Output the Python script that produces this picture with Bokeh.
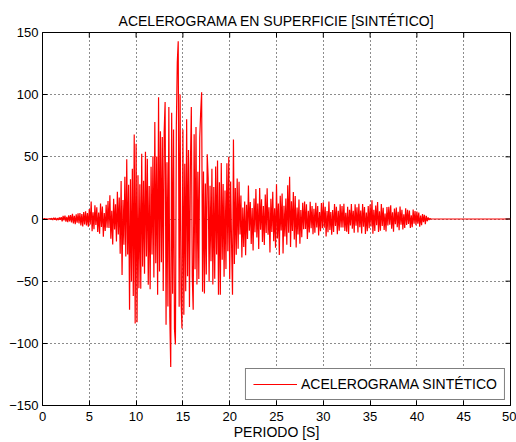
import numpy as np
from bokeh.plotting import figure
from bokeh.models import Range1d, FixedTicker, Legend, LegendItem
from bokeh.embed import file_html
from bokeh.resources import INLINE

# Sampling step of the synthetic record (s) and end of the plotted window
dt = 0.1
t_end = 50.0

# Acceleration samples, one row per second (10 samples each)
s00 = [0.2, -0.3, 0.4, -0.2, 0.3, -0.4, 0.2, -0.3, 0.5, -0.2]
s01 = [0.6, -0.8, 1.0, -0.5, 0.9, -1.1, 0.7, -0.9, 1.2, -0.6]
s02 = [1.5, -2.0, 2.5, -1.2, 2.8, -2.2, 1.8, -2.6, 3.0, -1.9]
s03 = [3.2, -2.8, 4.1, -3.5, 2.6, -4.2, 3.8, -3.0, 4.5, -3.6]
s04 = [4.8, -5.2, 3.9, -6.0, 5.5, -4.4, 6.2, -5.1, 4.7, -6.3]
s05 = [8.0, -4.5, 14.0, -9.8, 5.5, -8.2, 11.0, -4.9, 9.5, -10.5]
s06 = [5.2, -11.8, 12.5, -6.4, 10.1, -14.2, 4.8, -9.6, 11.4, -7.0]
s07 = [14.5, -7.2, 19.0, -15.8, 6.7, -20.5, 16.2, -8.4, 11.8, -18.1]
s08 = [22.0, -12.5, 17.3, -28.0, 30.5, -45.0, 15.2, -20.8, 34.0, -30.2]
s09 = [48.0, -28.5, 27.5, -73.0, 32.0, -50.2, 40.5, -62.0, 68.0, -84.0]
s10 = [60.5, -83.0, 35.2, -55.6, 28.0, -56.0, 52.5, -38.3, 30.8, -44.0]
s11 = [54.0, -30.2, 48.5, -52.8, 26.5, -56.4, 42.0, -28.6, 50.5, -47.0]
s12 = [78.0, -35.5, 50.2, -61.0, 98.0, -42.3, 70.5, -34.8, 66.0, -58.0]
s13 = [70.5, 94.0, -85.0, 45.6, -70.4, 90.0, -78.5, -119.0, 85.4, -60.2]
s14 = [72.0, -88.4, -101.0, 75.3, 126.0, 143.0, -70.6, 100.2, -64.5, -88.0]
s15 = [72.0, -77.0, 44.5, -58.2, 80.3, -46.0, 55.4, -70.8, 42.0, 90.0]
s16 = [-46.5, -73.0, 68.2, -40.4, 74.0, -52.6, 38.0, -48.2, 65.5, 86.0]
s17 = [102.0, -58.5, 38.2, -60.0, 28.5, -44.6, 52.0, 33.0, -50.5, 26.8]
s18 = [-34.0, 40.5, -52.6, 25.8, -48.0, 42.2, -28.5, 47.0, -61.0, 29.6]
s19 = [-61.0, 45.0, -32.8, 28.2, -46.5, 23.0, -40.2, 44.8, -26.0, 50.0]
s20 = [-48.5, 30.2, -20.6, -61.0, 64.0, -36.2, 25.0, -28.8, 32.5, -24.0]
s21 = [30.0, -12.5, 18.8, -31.0, 9.2, -22.5, 14.0, -29.2, 11.4, -16.0]
s22 = [27.0, -9.5, 13.6, -20.0, 8.8, -25.4, 16.5, -10.6, 24.2, -14.8]
s23 = [12.5, -24.2, 25.0, -8.6, 15.8, -18.5, 10.4, -21.0, 19.6, -11.2]
s24 = [24.8, -12.6, 9.5, -27.0, 16.2, -10.4, 22.0, -17.8, 8.6, -23.2]
s25 = [28.0, -15.6, 12.4, -29.0, 18.6, -9.2, 20.5, -27.8, 10.6, -14.0]
s26 = [16.5, -20.8, 27.2, -11.0, 34.0, -22.5, 14.2, -9.6, 21.8, -16.4]
s27 = [18.5, -23.0, 9.2, -12.4, 15.6, -19.8, 7.2, -14.6, 13.0, -8.2]
s28 = [14.0, -8.0, 11.8, -16.0, 6.6, -10.8, 13.8, -7.4, 10.5, -12.2]
s29 = [8.2, -11.0, 13.0, -6.8, 10.4, -13.2, 5.6, -9.8, 12.8, -7.4]
s30 = [13.5, -7.0, 9.8, -14.0, 6.4, -10.6, 14.0, -8.8, 5.6, -12.6]
s31 = [7.2, -10.4, 12.0, -5.6, 9.8, -12.2, 6.6, -9.4, 11.8, -6.8]
s32 = [10.5, -6.8, 12.2, -9.6, 5.0, -10.2, 9.8, -12.0, 7.4, -5.2]
s33 = [12.0, -7.8, 6.6, -11.0, 11.8, -5.4, 9.4, -10.8, 12.2, -6.6]
s34 = [6.8, -11.6, 12.0, -6.2, 9.6, -12.0, 5.2, -9.8, 10.4, -7.4]
s35 = [11.6, -6.0, 15.0, -11.8, 7.4, -9.6, 10.8, -5.0, 13.6, -10.4]
s36 = [6.2, -9.4, 12.0, -5.6, 9.0, -8.8, 4.4, -10.0, 9.6, -5.2]
s37 = [9.8, -4.6, 11.0, -7.8, 5.4, -10.2, 8.4, -4.2, 9.2, -6.6]
s38 = [5.8, -9.0, 10.0, -4.6, 7.4, -8.4, 3.8, -7.2, 8.6, -4.8]
s39 = [7.4, -4.0, 6.8, -7.2, 3.0, -6.6, 7.6, -3.8, 6.4, -5.0]
s40 = [6.0, -3.8, 5.2, -6.2, 2.8, -5.0, 4.0, -2.6, 3.4, -4.2]
s41 = [2.5, -1.8, 1.2, -0.8, 0.5, 0.0]
# quiet tail of the record up to the end of the window
tail_value = [0.0]

x_ticks = [0, 5, 10, 15, 20, 25, 30, 35, 40, 45, 50]
y_ticks = [-150, -100, -50, 0, 50, 100, 150]
x_min, x_max = 0, 50
y_min, y_max = -150, 150

rows = [s00, s01, s02, s03, s04, s05, s06, s07, s08, s09, s10, s11, s12, s13,
        s14, s15, s16, s17, s18, s19, s20, s21, s22, s23, s24, s25, s26, s27,
        s28, s29, s30, s31, s32, s33, s34, s35, s36, s37, s38, s39, s40, s41]
acc = [v for r in rows for v in r]
t = [i * dt for i in range(len(acc))]
acc = acc + tail_value
t = t + [t_end]

FONT = "Liberation Sans"

p = figure(width=516, height=442, output_backend="svg", toolbar_location=None,
           x_range=Range1d(x_min, x_max), y_range=Range1d(y_min, y_max),
           min_border_left=42, min_border_top=32, min_border_bottom=37,
           min_border_right=6)

p.title.text = "ACELEROGRAMA EN SUPERFICIE [SINTÉTICO]"
p.title.align = "center"
p.title.text_font = FONT
p.title.text_font_style = "normal"
p.title.text_font_size = "14px"
p.title.text_color = "#000000"
p.title.offset = 0
p.title.standoff = 8

p.outline_line_color = "black"
p.outline_line_width = 1
p.background_fill_color = "white"
p.border_fill_color = "white"

line = p.line(t, acc, line_color="#ff0000", line_width=1.2)

for ax in (p.xaxis[0], p.yaxis[0]):
    ax.major_tick_in = 5
    ax.major_tick_out = 0
    ax.minor_tick_in = 0
    ax.minor_tick_out = 0
    ax.axis_line_color = "black"
    ax.major_tick_line_color = "black"
    ax.major_label_text_font = FONT
    ax.major_label_text_font_size = "13px"
    ax.major_label_text_color = "#000000"

p.xaxis[0].major_label_standoff = 6
p.yaxis[0].major_label_standoff = 4
p.xaxis[0].ticker = FixedTicker(ticks=x_ticks)
p.yaxis[0].ticker = FixedTicker(ticks=y_ticks)
p.xaxis[0].axis_label = "PERIODO [S]"
p.xaxis[0].axis_label_text_font = FONT
p.xaxis[0].axis_label_text_font_size = "14px"
p.xaxis[0].axis_label_text_font_style = "normal"
p.xaxis[0].axis_label_text_color = "#000000"
p.xaxis[0].axis_label_standoff = 0

# inward ticks on the top and right edges of the box
p.ray(x=x_ticks, y=[y_max] * len(x_ticks), length=5, length_units="screen",
      angle=-np.pi / 2, line_color="black", line_width=1)
p.ray(x=[x_max] * len(y_ticks), y=y_ticks, length=5, length_units="screen",
      angle=np.pi, line_color="black", line_width=1)

for g in (p.xgrid[0], p.ygrid[0]):
    g.grid_line_color = "black"
    g.grid_line_dash = "1 3"
    g.grid_line_width = 1
    g.grid_line_alpha = 0.9
p.xgrid[0].ticker = FixedTicker(ticks=x_ticks[1:-1])
p.ygrid[0].ticker = FixedTicker(ticks=y_ticks[1:-1])

legend = Legend(items=[LegendItem(label="ACELEROGRAMA SINTÉTICO", renderers=[line])],
                location="bottom_right")
legend.label_text_font = FONT
legend.label_text_font_size = "14px"
legend.label_text_color = "#000000"
legend.border_line_color = "black"
legend.border_line_width = 1
legend.background_fill_color = "white"
legend.background_fill_alpha = 1
legend.glyph_width = 44
legend.glyph_height = 16
legend.padding = 7
legend.margin = 5
legend.spacing = 0
legend.label_standoff = 4
p.add_layout(legend, "center")

open("out.html", "w").write(file_html(p, INLINE))
